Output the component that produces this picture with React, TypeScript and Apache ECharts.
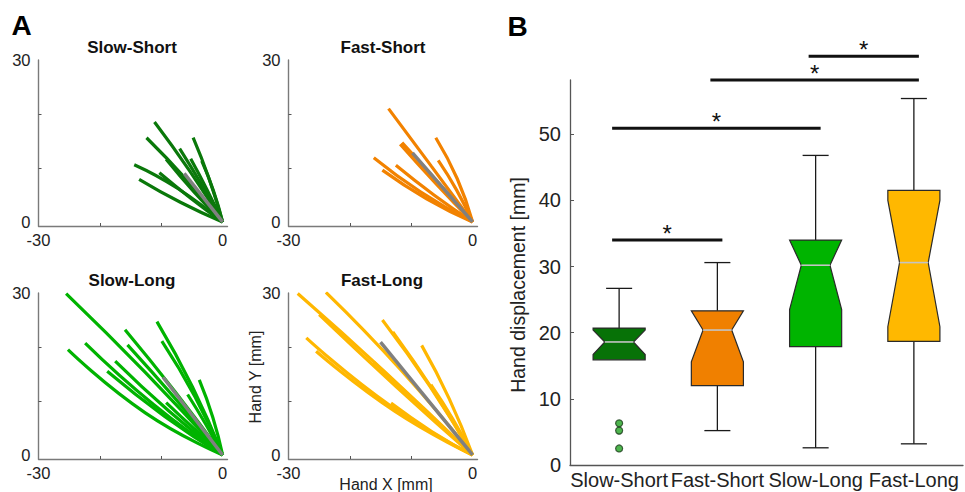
import React, { useEffect, useRef } from 'react';
import * as echarts from 'echarts';

const FONT = '"Liberation Sans", Arial, Helvetica, sans-serif';

// ---------- Panel A: hand trajectories (each: end point, mid point, origin) ----------
const panelTitles = ['Slow-Short', 'Fast-Short', 'Slow-Long', 'Fast-Long'];
const panelColors = ['#0a780a', '#f28200', '#00b300', '#ffb700'];

const slowShortPaths = [
  [[-11.1, 18.5], [-5.4, 9.5], [0, 0]],
  [[-12.4, 15.6], [-6.0, 8.0], [0, 0]],
  [[-14.4, 10.6], [-7.3, 6.2], [0, 0]],
  [[-13.6, 7.9], [-6.8, 3.6], [0, 0]],
  [[-4.8, 15.6], [-2.2, 8.0], [0, 0]],
  [[-7.0, 13.6], [-3.4, 6.9], [0, 0]],
  [[-5.2, 11.7], [-2.5, 5.9], [0, 0]],
  [[-3.4, 11.3], [-1.5, 5.8], [0, 0]],
  [[-9.2, 11.6], [-4.7, 5.6], [0, 0]],
  [[-10.3, 9.1], [-5.2, 4.4], [0, 0]],
];
const fastShortPaths = [
  [[-13.7, 21.0], [-6.7, 10.3], [0, 0]],
  [[-11.5, 14.7], [-5.6, 7.3], [0, 0]],
  [[-11.8, 14.4], [-5.9, 7.0], [0, 0]],
  [[-16.1, 11.9], [-8.5, 5.6], [0, 0]],
  [[-14.7, 9.6], [-7.5, 4.3], [0, 0]],
  [[-12.5, 10.5], [-6.3, 5.0], [0, 0]],
  [[-6.0, 15.6], [-2.5, 8.0], [0, 0]],
  [[-5.6, 11.4], [-2.6, 5.9], [0, 0]],
];
const slowLongPaths = [
  [[-25.5, 29.9], [-12.6, 15.3], [0, 0]],
  [[-25.2, 19.5], [-12.6, 7.8], [0, 0]],
  [[-22.4, 20.7], [-11.2, 9.3], [0, 0]],
  [[-15.9, 23.2], [-7.8, 11.8], [0, 0]],
  [[-15.5, 20.4], [-7.6, 10.3], [0, 0]],
  [[-17.5, 17.4], [-8.8, 8.2], [0, 0]],
  [[-18.8, 15.5], [-9.5, 7.2], [0, 0]],
  [[-10.7, 24.7], [-4.9, 12.6], [0, 0]],
  [[-9.9, 21.1], [-4.5, 10.8], [0, 0]],
  [[-3.8, 13.9], [-1.6, 7.0], [0, 0]],
  [[-5.7, 11.2], [-2.7, 5.6], [0, 0]],
  [[-9.2, 9.7], [-4.6, 4.8], [0, 0]],
];
const fastLongPaths = [
  [[-28.5, 29.9], [-14.2, 15.3], [0, 0]],
  [[-23.9, 30.1], [-11.5, 15.5], [0, 0]],
  [[-25.0, 26.0], [-12.3, 12.5], [0, 0]],
  [[-27.1, 21.7], [-13.5, 9.2], [0, 0]],
  [[-25.5, 19.2], [-12.7, 8.1], [0, 0]],
  [[-14.7, 25.0], [-7.0, 12.8], [0, 0]],
  [[-13.0, 22.8], [-6.2, 11.6], [0, 0]],
  [[-8.3, 20.3], [-3.8, 10.4], [0, 0]],
  [[-16.1, 17.2], [-8.0, 8.5], [0, 0]],
  [[-13.3, 9.6], [-6.6, 4.3], [0, 0]],
  [[-6.8, 13.0], [-3.2, 6.6], [0, 0]],
];
const meanPaths = [
  [[-6.25, 9.0], [0, 0]],
  [[-9.8, 12.8], [0, 0]],
  [[-9.7, 14.4], [0, 0]],
  [[-15.0, 20.9], [0, 0]],
];
const panelPaths = [slowShortPaths, fastShortPaths, slowLongPaths, fastLongPaths];
const xTicksA = [-20, -10];
const xLabelsA = [-30, 0];
const yTicksA = [10, 20];
const yLabelsA = [0, 30];

// ---------- Panel B: notched box plots ----------
const categories = ['Slow-Short', 'Fast-Short', 'Slow-Long', 'Fast-Long'];
const boxColors = ['#077207', '#f08000', '#00b400', '#ffb800'];
const whiskerLow = [15.9, 5.2, 2.6, 3.2];
const q1 = [15.9, 12.0, 17.9, 18.7];
const notchLow = [16.7, 15.6, 23.5, 20.9];
const median = [18.6, 20.4, 30.2, 30.6];
const notchHigh = [20.4, 23.3, 34.0, 40.0];
const q3 = [20.7, 23.3, 34.0, 41.5];
const whiskerHigh = [26.7, 30.6, 46.8, 55.4];
const outlierCats = [0, 0, 0];
const outlierValues = [6.3, 5.2, 2.5];
const yTicksB = [0, 10, 20, 30, 40, 50];
// significance bars: from category, to category, height
const sigFrom = [0, 0, 1, 2];
const sigTo = [1, 2, 3, 3];
const sigLevel = [34.0, 50.9, 58.2, 61.8];

const gridsA = [
  { left: 38.5, top: 60, width: 189, height: 166 },
  { left: 288.5, top: 60, width: 189, height: 166 },
  { left: 38.5, top: 293, width: 189, height: 166 },
  { left: 288.5, top: 293, width: 189, height: 166 },
];

export default function App() {
  const ref = useRef<HTMLDivElement>(null);
  useEffect(() => {
    if (!ref.current) return;
    const chart = echarts.init(ref.current, null, { renderer: 'svg' });

    const axisLineA = { show: true, onZero: false, lineStyle: { color: '#7a7a7a', width: 1.4 } };
    const xAxes: any[] = gridsA.map((_, i) => ({
      type: 'value', gridIndex: i, min: -30, max: 0.8,
      axisLine: axisLineA,
      axisTick: { show: true, inside: true, length: 3, customValues: xTicksA, lineStyle: { color: '#555' } },
      axisLabel: { customValues: xLabelsA, fontSize: 16.5, color: '#222', margin: 5, fontFamily: FONT },
      splitLine: { show: false },
    }));
    const yAxes: any[] = gridsA.map((_, i) => ({
      type: 'value', gridIndex: i, min: -0.75, max: 30,
      axisLine: axisLineA,
      axisTick: { show: true, inside: true, length: 3, customValues: yTicksA, lineStyle: { color: '#555' } },
      axisLabel: { customValues: yLabelsA, fontSize: 16.5, color: '#222', margin: 8, fontFamily: FONT },
      splitLine: { show: false },
    }));
    xAxes.push({
      type: 'category', gridIndex: 4, data: categories, boundaryGap: true,
      axisLine: { show: true, onZero: false, lineStyle: { color: '#555', width: 1.3 } },
      axisTick: { show: false },
      axisLabel: { interval: 0, fontSize: 20, color: '#222', margin: 5, fontFamily: FONT },
      splitLine: { show: false },
    });
    yAxes.push({
      type: 'value', gridIndex: 4, min: 0, max: 58.2,
      axisLine: { show: true, onZero: false, lineStyle: { color: '#555', width: 1.3 } },
      axisTick: { show: true, inside: true, length: 4, customValues: yTicksB, lineStyle: { color: '#555' } },
      axisLabel: { customValues: yTicksB, fontSize: 20, color: '#222', margin: 9, fontFamily: FONT },
      splitLine: { show: false },
    });

    const series: any[] = [];
    panelPaths.forEach((paths, i) => {
      paths.forEach((p) => {
        series.push({
          type: 'line', xAxisIndex: i, yAxisIndex: i, data: p, smooth: 0.5,
          showSymbol: false, symbol: 'none', silent: true, z: 2,
          lineStyle: { color: panelColors[i], width: 3.2 },
        });
      });
      series.push({
        type: 'line', xAxisIndex: i, yAxisIndex: i, data: meanPaths[i],
        showSymbol: false, symbol: 'none', silent: true, z: 3,
        lineStyle: { color: '#808080', width: 3.5 },
      });
    });

    const boxRows = categories.map((_, i) => [i, whiskerLow[i], q1[i], notchLow[i], median[i], notchHigh[i], q3[i], whiskerHigh[i]]);
    series.push({
      type: 'custom', xAxisIndex: 4, yAxisIndex: 4, data: boxRows, z: 3,
      encode: { x: 0, y: [1, 2, 3, 4, 5, 6, 7] },
      renderItem: (params: any, api: any) => {
        const ci = api.value(0);
        const cx = api.coord([ci, 0])[0];
        const band = api.size([1, 0])[0];
        const hw = band * 0.265;
        const nw = hw * 0.55;
        const cap = hw * 0.5;
        const Y = (k: number) => api.coord([ci, api.value(k)])[1];
        const wlo = Y(1), b1 = Y(2), nlo = Y(3), md = Y(4), nhi = Y(5), b3 = Y(6), whi = Y(7);
        const stroke = { stroke: '#1a1a1a', lineWidth: 1.3 };
        const children: any[] = [
          { type: 'line', shape: { x1: cx, y1: b3, x2: cx, y2: whi }, style: stroke },
          { type: 'line', shape: { x1: cx - cap, y1: whi, x2: cx + cap, y2: whi }, style: stroke },
        ];
        if (Math.abs(wlo - b1) > 0.5) {
          children.push({ type: 'line', shape: { x1: cx, y1: b1, x2: cx, y2: wlo }, style: stroke });
          children.push({ type: 'line', shape: { x1: cx - cap, y1: wlo, x2: cx + cap, y2: wlo }, style: stroke });
        }
        children.push({
          type: 'polygon',
          shape: {
            points: [
              [cx - hw, b1], [cx - hw, nlo], [cx - nw, md], [cx - hw, nhi], [cx - hw, b3],
              [cx + hw, b3], [cx + hw, nhi], [cx + nw, md], [cx + hw, nlo], [cx + hw, b1],
            ],
          },
          style: { fill: boxColors[ci], stroke: '#2a2a2a', lineWidth: 1.2 },
        });
        children.push({
          type: 'line', shape: { x1: cx - nw, y1: md, x2: cx + nw, y2: md },
          style: { stroke: '#c4c4c4', lineWidth: 1.6 },
        });
        return { type: 'group', children };
      },
    });

    series.push({
      type: 'scatter', xAxisIndex: 4, yAxisIndex: 4, z: 4,
      data: outlierValues.map((v, k) => [outlierCats[k], v]),
      symbol: 'circle', symbolSize: 7,
      itemStyle: { color: '#22a322', borderColor: '#1a3d1a', borderWidth: 1.2 },
    });

    const sigRows = sigFrom.map((f, k) => [f, sigTo[k], sigLevel[k]]);
    series.push({
      type: 'custom', xAxisIndex: 4, yAxisIndex: 4, data: sigRows, z: 5, clip: false,
      encode: { x: [0, 1], y: 2 },
      renderItem: (params: any, api: any) => {
        const lvl = api.value(2);
        const p1 = api.coord([api.value(0), lvl]);
        const p2 = api.coord([api.value(1), lvl]);
        const x1 = p1[0] - 7;
        const x2 = p2[0] + 5;
        const y = p1[1];
        return {
          type: 'group',
          children: [
            { type: 'line', shape: { x1, y1: y, x2, y2: y }, style: { stroke: '#111', lineWidth: 3 } },
            {
              type: 'text', x: (x1 + x2) / 2, y: y - 7,
              style: { text: '*', fontSize: 24, fontFamily: FONT, fill: '#111', align: 'center', verticalAlign: 'middle' },
            },
          ],
        };
      },
    });

    const titlePos = [[132, 47], [383, 47], [132, 280], [382, 280]];
    const graphic: any[] = [
      { type: 'text', x: 21.5, y: 25, style: { text: 'A', fontSize: 28, fontWeight: 'bold', fontFamily: FONT, fill: '#000', align: 'center', verticalAlign: 'middle' } },
      { type: 'text', x: 517.5, y: 26.5, style: { text: 'B', fontSize: 28, fontWeight: 'bold', fontFamily: FONT, fill: '#000', align: 'center', verticalAlign: 'middle' } },
      ...panelTitles.map((t, i) => ({
        type: 'text', x: titlePos[i][0], y: titlePos[i][1],
        style: { text: t, fontSize: 17, fontWeight: 'bold', fontFamily: FONT, fill: '#111', align: 'center', verticalAlign: 'middle' },
      })),
      { type: 'text', x: 386, y: 484, style: { text: 'Hand X [mm]', fontSize: 16, fontFamily: FONT, fill: '#222', align: 'center', verticalAlign: 'middle' } },
      { type: 'text', x: 255, y: 377, rotation: Math.PI / 2, style: { text: 'Hand Y [mm]', fontSize: 16, fontFamily: FONT, fill: '#222', align: 'center', verticalAlign: 'middle' } },
      { type: 'text', x: 518, y: 285, rotation: Math.PI / 2, style: { text: 'Hand displacement [mm]', fontSize: 19.5, fontFamily: FONT, fill: '#222', align: 'center', verticalAlign: 'middle' } },
    ];

    chart.setOption({
      animation: false,
      backgroundColor: '#ffffff',
      textStyle: { fontFamily: FONT },
      grid: [...gridsA, { left: 570, top: 80, width: 393, height: 385 }],
      xAxis: xAxes,
      yAxis: yAxes,
      series,
      graphic,
    });
    return () => chart.dispose();
  }, []);
  return <div ref={ref} style={{ position: 'absolute', left: 0, top: 0, width: 965, height: 492, background: '#fff' }} />;
}
